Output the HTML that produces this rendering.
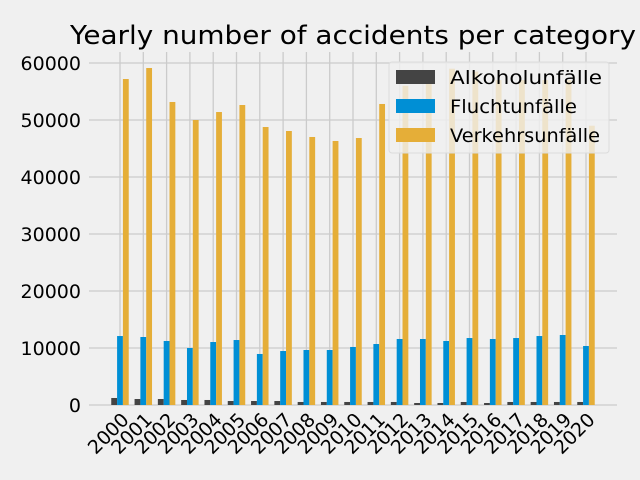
<!DOCTYPE html>
<html><head><meta charset="utf-8"><style>
body{margin:0;background:#f0f0f0}
svg{display:block;font-family:"DejaVu Sans","Liberation Sans",sans-serif}
</style></head><body>
<svg id="c" width="640" height="480" viewBox="0 0 640 480">
<rect width="640" height="480" fill="#f0f0f0"/>
<text x="353" y="44" text-anchor="middle" font-size="26" fill="#000" textLength="566" lengthAdjust="spacingAndGlyphs">Yearly number of accidents per category</text>
<g id="grid"></g><g id="bars"></g><g id="ticks"></g>
<g>
<rect x="389" y="62" width="220" height="91" rx="3" fill="#f0f0f0" fill-opacity="0.8" stroke="#dcdcdc"/>
<g><rect x="396" y="70" width="39" height="14" fill="#444444"/><text x="450" y="84" font-size="19" textLength="152" lengthAdjust="spacingAndGlyphs">Alkoholunfälle</text></g>
<g><rect x="396" y="99" width="39" height="14" fill="#008fd5"/><text x="450" y="113" font-size="19" textLength="127" lengthAdjust="spacingAndGlyphs">Fluchtunfälle</text></g>
<g><rect x="396" y="128" width="39" height="14" fill="#e5ae38"/><text x="450" y="142" font-size="19" textLength="150" lengthAdjust="spacingAndGlyphs">Verkehrsunfälle</text></g>
</g>
</svg>
<script>
const years=[2000,2001,2002,2003,2004,2005,2006,2007,2008,2009,2010,2011,2012,2013,2014,2015,2016,2017,2018,2019,2020];
const alkohol=[1230,1050,1050,880,880,700,700,700,530,530,530,530,530,350,350,530,350,530,530,530,530];
const flucht=[12100,11930,11230,10000,11050,11400,8950,9470,9650,9650,10180,10700,11580,11580,11230,11750,11580,11750,12100,12280,10350];
const verkehr=[57190,59120,53160,50000,51400,52630,48770,48070,47020,46320,46840,52810,56000,57500,59000,58500,57000,57000,57000,57000,49000];
const yTicks=[0,10000,20000,30000,40000,50000,60000];
const NS="http://www.w3.org/2000/svg";
const x0=120,dx=23.3,y0=405,ppu=57/10000,bw=dx*0.25;
const X=i=>x0+i*dx, Y=v=>y0-v*ppu;
function mk(t,a,p){const e=document.createElementNS(NS,t);for(const k in a)e.setAttribute(k,a[k]);p.appendChild(e);return e;}
const g=document.getElementById('grid'),b=document.getElementById('bars'),t=document.getElementById('ticks');
yTicks.forEach(v=>{
 const l=mk('line',{x1:89,x2:617,y1:Y(v),y2:Y(v),stroke:'#cbcbcb','stroke-width':1.3},g);
 
 
 const tx=mk('text',{x:81,y:Y(v)+7,'text-anchor':'end','font-size':19},t);tx.textContent=v;
 
 
});
years.forEach((yr,i)=>{
 const l=mk('line',{x1:X(i),x2:X(i),y1:52,y2:405,stroke:'#cbcbcb','stroke-width':1.3},g);
 
 
 const tx=mk('text',{x:0,y:0,'text-anchor':'end','font-size':19,transform:`translate(${X(i)+10},${421}) rotate(-45)`},t);
 tx.textContent=yr;
 
 
 [[alkohol,'#444444',-1,'alkohol'],[flucht,'#008fd5',0,'flucht'],[verkehr,'#e5ae38',1,'verkehr']].forEach(([arr,c,o,n])=>{
  const cx=X(i)+o*bw;
  const r=mk('rect',{x:cx-bw/2,y:Y(arr[i]),width:bw,height:y0-Y(arr[i]),fill:c},b);
  
  
 });
});
</script>
</body></html>
